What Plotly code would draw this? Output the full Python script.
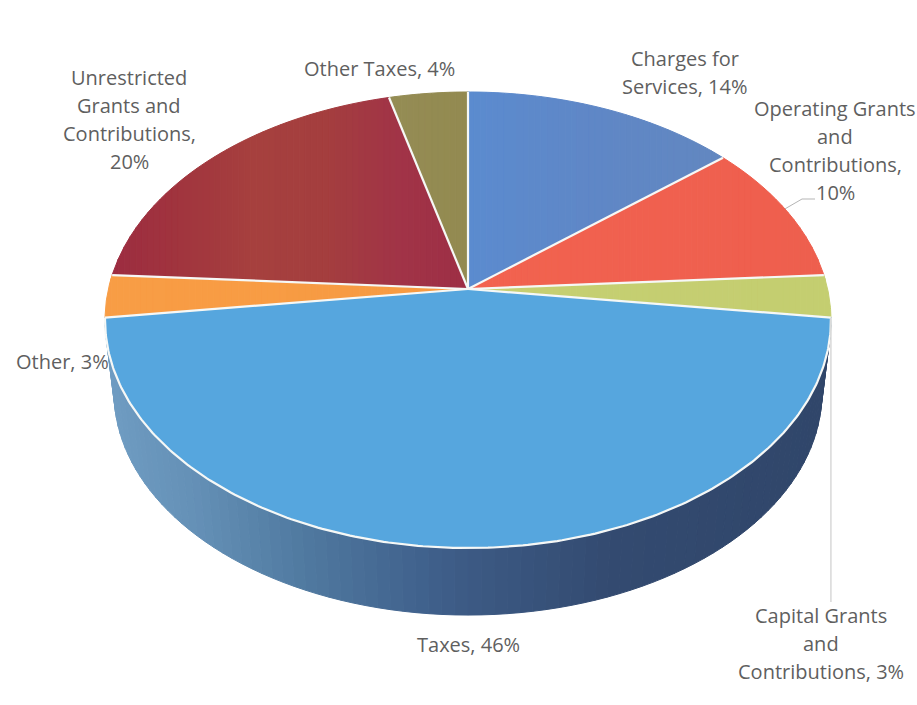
import math
import plotly.graph_objects as go

# Revenue shares, clockwise from twelve o'clock
categories = ["Charges for Services", "Operating Grants and Contributions",
              "Capital Grants and Contributions", "Taxes", "Other",
              "Unrestricted Grants and Contributions", "Other Taxes"]
shares = [14, 10, 3, 46, 3, 20, 4]
# Line breaks for each data label: words per line, counting the value
label_breaks = [[2, 2], [2, 1, 1, 1], [2, 1, 2], [2], [2], [1, 2, 1, 1], [3]]

# Face colours per slice, interpolated left to right across the slice
slice_colours = [
    ["#5b8bcf", "#5f87c6", "#6287c0"],
    ["#f2634f", "#f0604f", "#ee5f4e"],
    ["#c6cf72", "#c4ce70"],
    ["#56a6de"],
    ["#f89d45", "#f79a42"],
    ["#9c2c40", "#a1353e", "#a6403e", "#a43e3e", "#a13447", "#9d2e45"],
    ["#948c55", "#938a50"],
]
# Wall shading from the right edge round to the left edge
wall_stops = [(0.0, "#30466a"), (0.3, "#334a70"), (0.5, "#3c5a84"), (0.56, "#40618c"),
              (0.72, "#4f789f"), (0.88, "#6490b6"), (1.0, "#6f9cc2")]

PERSPECTIVE = 0.136
RX, RY = 359.6, 223.8
CX, APEX_Y = 468.0, 289.0
WALL_SCALE, WALL_APEX_Y = 0.975, 362.5
STRIP_PX = 6


def project(angle_deg, scale=1.0, apex_y=APEX_Y):
    """Map a clockwise angle on the tilted disc to plot coordinates."""
    t = math.radians(angle_deg)
    u, v = math.sin(t), math.cos(t)
    den = 1 + PERSPECTIVE * v
    return CX + scale * RX * u / den, apex_y - scale * RY * v / den


def hex_rgb(h):
    return tuple(int(h[i:i + 2], 16) for i in (1, 3, 5))


def blend(stops, f):
    """Colour at fraction f of a list of (position, hex) stops."""
    for (p0, c0), (p1, c1) in zip(stops, stops[1:]):
        if f <= p1:
            k = (f - p0) / (p1 - p0) if p1 > p0 else 0
            a, b = hex_rgb(c0), hex_rgb(c1)
            return "rgb(%d,%d,%d)" % tuple(round(x + (y - x) * k) for x, y in zip(a, b))
    return stops[-1][1]


def clip_x(points, lo, hi):
    """Clip a closed polygon to the vertical band lo <= x <= hi."""
    def cut(pts, inside, boundary):
        out = []
        for i, p in enumerate(pts):
            q = pts[(i + 1) % len(pts)]
            if inside(p):
                out.append(p)
            if inside(p) != inside(q):
                k = (boundary - p[0]) / (q[0] - p[0])
                out.append((boundary, p[1] + (q[1] - p[1]) * k))
        return out
    pts = cut(points, lambda p: p[0] >= lo, lo)
    return cut(pts, lambda p: p[0] <= hi, hi) if pts else []


def polygon(pts, colour):
    xs = [p[0] for p in pts] + [pts[0][0]]
    ys = [p[1] for p in pts] + [pts[0][1]]
    return go.Scatter(x=xs, y=ys, mode="lines", fill="toself", fillcolor=colour,
                      line=dict(color=colour, width=1), hoverinfo="skip", showlegend=False)


def stroke(xs, ys, colour, width):
    return go.Scatter(x=xs, y=ys, mode="lines", line=dict(color=colour, width=width),
                      hoverinfo="skip", showlegend=False)


fig = go.Figure()

# Slice boundaries as cumulative angles
edges = [0.0]
for s in shares:
    edges.append(edges[-1] + s / sum(shares) * 360)

# Outer wall beneath the largest slice
big = shares.index(max(shares))
a0, a1 = edges[big], edges[big + 1]
n_wall = 90
for i in range(n_wall):
    t0 = a0 + (a1 - a0) * i / n_wall
    t1 = a0 + (a1 - a0) * (i + 1) / n_wall
    quad = [project(t0), project(t1), project(t1, WALL_SCALE, WALL_APEX_Y), project(t0, WALL_SCALE, WALL_APEX_Y)]
    # shade follows horizontal position so the wall reads as a smooth cylinder
    f = (CX + 363 - (quad[0][0] + quad[1][0]) / 2) / 726
    fig.add_trace(polygon(quad, blend(wall_stops, max(0, min(1, f)))))

# Top face of each slice, in vertical bands where the colour varies
for k, colours in enumerate(slice_colours):
    start, end = edges[k], edges[k + 1]
    m = max(2, int((end - start) / 0.5))
    outline = [(CX, APEX_Y)] + [project(start + (end - start) * j / m) for j in range(m + 1)]
    if len(colours) == 1:
        fig.add_trace(polygon(outline, colours[0]))
        continue
    stops = [(j / (len(colours) - 1), c) for j, c in enumerate(colours)]
    x_min = min(p[0] for p in outline)
    x_max = max(p[0] for p in outline)
    n = max(1, round((x_max - x_min) / STRIP_PX))
    for i in range(n):
        band = clip_x(outline, x_min + (x_max - x_min) * i / n, x_min + (x_max - x_min) * (i + 1) / n)
        if len(band) >= 3:
            fig.add_trace(polygon(band, blend(stops, (i + 0.5) / n)))

# White dividers between slices
for e in edges[:-1]:
    x, y = project(e)
    fig.add_trace(stroke([CX, x], [APEX_Y, y], "#f6f8f6", 2.2))
# White rim along the front of the disc
front = [project(a0 + (a1 - a0) * j / 240) for j in range(241)]
fig.add_trace(stroke([r[0] for r in front], [r[1] for r in front], "#f6f8f6", 2.2))

# Leader lines for the labels set away from their slices
ox, oy = project((edges[1] + edges[2]) / 2 - 0.5)
fig.add_trace(stroke([ox, 802, 815], [oy, 199, 199], "#b5b5b5", 1))
cx_, cy_ = project(edges[3])
fig.add_trace(stroke([cx_, cx_], [cy_, 602], "#c4c4c4", 1))

# Label anchor (centre x, first line centre y) for each slice
label_x = [685, 835, 821, 468, 62, 129, 379]
label_y = [58, 108, 615, 644, 361, 77, 68]
LINE_STEP = 28.3

for name, share, breaks, lx, ly in zip(categories, shares, label_breaks, label_x, label_y):
    words = f"{name}, {share}%".split(" ")
    pos = 0
    for row, count in enumerate(breaks):
        text = " ".join(words[pos:pos + count])
        pos += count
        fig.add_annotation(x=lx, y=ly + row * LINE_STEP, text=text, showarrow=False,
                           xanchor="center", yanchor="middle",
                           font=dict(family="Open Sans, sans-serif", size=20, color="#5f5f5f"))

fig.update_layout(
    width=917, height=705, autosize=False,
    margin=dict(l=0, r=0, t=0, b=0),
    paper_bgcolor="#ffffff", plot_bgcolor="#ffffff",
    showlegend=False,
    xaxis=dict(range=[0, 917], visible=False, fixedrange=True),
    yaxis=dict(range=[705, 0], visible=False, fixedrange=True),
)

fig.write_html("out.html")
